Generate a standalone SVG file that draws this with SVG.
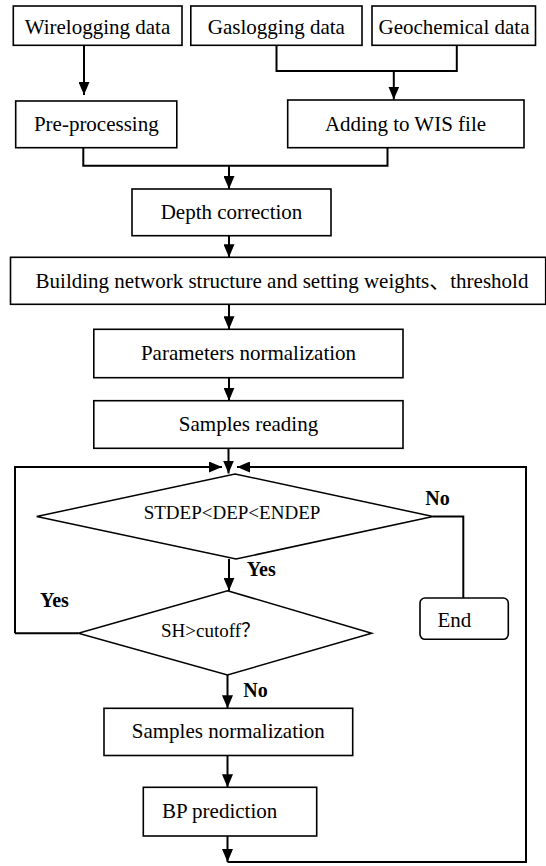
<svg xmlns="http://www.w3.org/2000/svg" width="546" height="866" viewBox="0 0 546 866">
<style>
.box{fill:#fff;stroke:#000;stroke-width:1.6}
.dia{fill:#fff;stroke:#000;stroke-width:1.5}
.t{font-family:"Liberation Serif","Times New Roman","Noto Sans CJK SC",serif;font-size:21px;fill:#000;text-anchor:middle}
.s{font-size:19px}
.b{font-weight:bold;font-size:20px;text-anchor:start}
.c{fill:none;stroke:#000;stroke-width:2}
.a{marker-end:url(#ah)}
</style>
<defs>
<marker id="ah" viewBox="0 0 13 11" refX="13" refY="5.5" markerWidth="13" markerHeight="11" markerUnits="userSpaceOnUse" orient="auto"><path d="M0,0 L13,5.5 L0,11 z" fill="#000"/></marker>
</defs>
<rect width="546" height="866" fill="#fff"/>
<g id="connectors">
<path class="c a" d="M84,45.3 V95"/>
<path class="c" d="M276.5,45.3 V71 H456.8 V45.3"/>
<path class="c a" d="M393.8,71 V99.5"/>
<path class="c" d="M83.3,147.7 V165.7 H387.5 V147.7"/>
<path class="c a" d="M229,165.7 V189"/>
<path class="c a" d="M229,235.7 V257.3"/>
<path class="c a" d="M229,304.3 V329.3"/>
<path class="c a" d="M229,377.7 V400.7"/>
<path class="c a" d="M228.5,448.3 V473.5"/>
<path class="c" d="M78.3,633.3 H15"/>
<path class="c a" d="M15,633.3 V467 H222"/>
<path class="c a" d="M227.5,862 H526 V467 H237"/>
<path class="c a" d="M229,559 V590.7"/>
<path class="c" d="M433,516.5 H463.3 V598"/>
<path class="c a" d="M227.5,675 V708.3"/>
<path class="c a" d="M227.5,755.5 V787.3"/>
<path class="c a" d="M227.5,836 V862"/>
</g>
<g id="wirelogging"><rect class="box" x="13.3" y="6" width="168.7" height="39.3"/><text class="t" x="97.5" y="33.5">Wirelogging data</text></g>
<g id="gaslogging"><rect class="box" x="190.8" y="6" width="171.2" height="39.3"/><text class="t" x="276.4" y="33.5">Gaslogging data</text></g>
<g id="geochemical"><rect class="box" x="372" y="6" width="163.5" height="39.3"/><text class="t" x="454" y="33.5">Geochemical data</text></g>
<g id="preprocessing"><rect class="box" x="15.7" y="101" width="161.1" height="46.7"/><text class="t" x="96.3" y="131">Pre-processing</text></g>
<g id="adding"><rect class="box" x="287.7" y="100" width="236.3" height="47.7"/><text class="t" x="405.5" y="131">Adding to WIS file</text></g>
<g id="depth"><rect class="box" x="132" y="189" width="199" height="46.7"/><text class="t" x="231.5" y="218.5">Depth correction</text></g>
<g id="building"><rect class="box" x="10.5" y="257.3" width="535.2" height="47"/><text class="t" x="282" y="287.5">Building network structure and setting weights、threshold</text></g>
<g id="parameters"><rect class="box" x="93.8" y="329.3" width="309.2" height="48.4"/><text class="t" x="248.5" y="359.5">Parameters normalization</text></g>
<g id="samples-reading"><rect class="box" x="93.8" y="400.7" width="309.2" height="47.6"/><text class="t" x="248.5" y="430.5">Samples reading</text></g>
<g id="depth-check"><path class="dia" d="M235,474 L433,516.5 L236,559 L36.7,516.5 Z"/><text class="t s" x="232" y="519">STDEP&lt;DEP&lt;ENDEP</text></g>
<g id="cutoff-check"><path class="dia" d="M227.5,590.7 L371.7,633.3 L227.5,675 L78.3,633.3 Z"/><text class="t s" x="210.5" y="637">SH&gt;cutoff？</text></g>
<g id="end"><rect class="box" x="420" y="598" width="88.3" height="41.3" rx="5"/><text class="t" x="454.3" y="626.5">End</text></g>
<g id="samples-norm"><rect class="box" x="104" y="708.3" width="248.7" height="47.2"/><text class="t" x="228.3" y="737.5">Samples normalization</text></g>
<g id="bp"><rect class="box" x="143.3" y="787.3" width="173.4" height="48.7"/><text class="t" x="219.6" y="817.5">BP prediction</text></g>
<g id="labels">
<text class="t b" x="425.3" y="505">No</text>
<text class="t b" x="246.8" y="576">Yes</text>
<text class="t b" x="40" y="606.7">Yes</text>
<text class="t b" x="243.3" y="697">No</text>
</g>
</svg>
